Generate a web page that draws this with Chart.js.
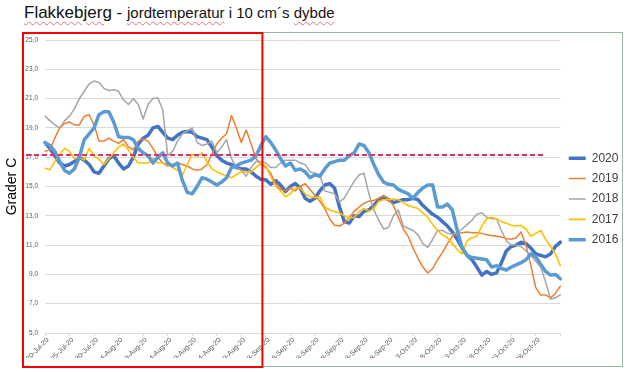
<!DOCTYPE html>
<html>
<head>
<meta charset="utf-8">
<script src="https://cdn.jsdelivr.net/npm/chart.js@4/dist/chart.umd.min.js"></script>
<style>
  html, body { margin: 0; padding: 0; background: #fff; }
  #wrap { position: relative; width: 640px; height: 372px; overflow: hidden; }
  #frame { position: absolute; left: 22px; top: 32px; width: 601px; height: 335px;
           border: 1.5px solid #97b9a3; box-sizing: border-box; }
  #title { position: absolute; left: 24px; top: 3px; line-height: 20px; white-space: nowrap;
           font-family: "Liberation Sans", Arial, sans-serif; color: #111; }
  #title .big { font-size: 17px; }
  #title .small { font-size: 15px; }
  #title .sq { text-decoration: underline wavy #e57373; text-decoration-thickness: 1px; text-underline-offset: 3px; }
  #chart { position: absolute; left: 0; top: 0; }
</style>
</head>
<body>
<div id="wrap">
  <div id="frame"></div>
  <div id="title"><span class="big sq">Flakkebjerg</span><span class="big"> - </span><span class="small"><span class="sq">jordtemperatur</span> i 10 cm´s <span class="sq">dybde</span></span></div>
  <canvas id="chart" width="640" height="372"></canvas>
</div>
<script>
// jordtemperatur i 10 cm dybde, en værdi pr. dag fra 20. juli
var seriesNames = ["2020", "2019", "2018", "2017", "2016"];

var temp2020 = [
  18.0, 17.6, 17.1, 16.6, 16.4, 16.5, 16.7, 17.0, 16.8, 16.5,
  16.0, 15.9, 16.4, 16.9, 17.1, 16.6, 16.2, 16.4, 17.0, 17.9,
  18.3, 18.5, 19.0, 19.1, 18.7, 18.3, 18.2, 18.5, 18.7, 18.75,
  18.7, 18.4, 18.3, 18.2, 17.7, 17.1, 16.8, 16.6, 16.5, 16.3,
  16.2, 16.2, 16.0, 15.7, 15.5, 15.45, 15.15, 15.4, 15.1, 14.65,
  15.0, 15.2, 14.9, 14.2, 14.0, 14.2, 14.7, 15.1, 15.2, 14.9,
  13.6, 12.6, 12.5, 13.0, 12.95, 13.3, 13.4, 13.7, 14.1, 14.3,
  14.1, 13.9, 14.0, 14.1, 14.1, 14.2, 14.1, 13.7, 13.4, 13.1,
  12.9, 12.6, 12.3, 11.9, 11.4, 10.8, 10.3, 10.0, 9.5, 8.95,
  9.2, 9.0, 9.1, 9.8, 10.6, 10.9, 11.0, 11.2, 11.1, 10.8,
  10.4, 10.3, 10.2, 10.4, 10.9, 11.2
];
var temp2019 = [
  17.4, 17.5, 18.3, 19.0, 19.3, 19.4, 19.2, 19.2, 19.8, 19.9,
  19.2, 18.1, 18.1, 18.3, 18.1, 17.95, 18.2, 17.7, 17.5, 18.1,
  18.25, 18.1, 17.6, 17.0, 16.6, 16.4, 16.5, 16.6, 16.5, 16.4,
  16.2, 16.1, 16.2, 16.5, 17.2, 17.9, 18.3, 18.6, 19.85, 19.0,
  18.0, 18.85, 17.9, 16.9, 16.5, 16.3, 15.9, 15.2, 14.8, 14.7,
  14.9, 14.7, 15.0, 15.2, 14.8, 14.4, 14.0, 13.5, 12.8, 12.35,
  12.3, 12.5, 12.9, 13.3, 13.6, 13.85, 14.0, 14.05, 14.2, 14.35,
  14.15, 13.7, 12.9, 12.1, 11.6, 10.8, 10.1, 9.5, 9.1, 9.4,
  10.0, 10.5, 11.1, 11.6, 11.8, 11.85, 11.9, 11.85, 11.85, 11.8,
  11.7, 11.65, 11.6, 11.55, 11.45, 11.4, 11.5, 11.9, 11.0, 9.6,
  8.1, 7.6, 7.6, 7.4, 7.7, 8.2
];
var temp2018 = [
  19.8, 19.5, 19.2, 19.0, 19.5, 19.8, 20.3, 21.0, 21.5, 22.0,
  22.2, 22.1, 21.7, 21.55, 21.6, 21.5, 20.9, 20.6, 21.0, 20.6,
  19.6, 20.6, 21.0, 21.05, 20.2, 17.1, 17.4, 18.1, 18.6, 18.8,
  19.0, 18.0, 17.8, 17.9, 18.1, 17.3, 17.7, 18.2, 16.9, 16.3,
  16.1, 15.7, 16.3, 16.7, 16.7, 16.6, 16.3, 16.3, 16.6, 16.8,
  16.8, 16.8, 16.6, 16.5, 16.0, 15.9, 15.8, 14.7, 14.6, 14.5,
  13.95, 14.2, 14.8, 15.35, 15.8, 15.9, 14.5, 13.4, 12.7, 12.1,
  12.2, 13.0, 13.4, 12.3, 12.15, 12.0, 11.7, 11.1, 10.85, 11.4,
  12.0, 12.0, 11.8, 11.75, 11.85, 12.1, 12.4, 12.7, 13.1, 13.2,
  12.9, 12.8, 12.8, 12.0, 11.3, 11.0, 11.0, 10.9, 10.6, 10.3,
  9.9, 9.5, 8.5, 7.3, 7.4, 7.6
];
var temp2017 = [
  16.25, 16.15, 16.7, 17.2, 17.6, 17.4, 16.9, 17.0, 16.8, 17.6,
  17.1, 16.85, 16.5, 16.9, 17.3, 17.7, 17.9, 17.5, 17.0, 16.6,
  16.6, 16.6, 16.9, 16.6, 16.6, 16.5, 16.3, 16.1, 15.8, 16.5,
  17.2, 17.05, 17.3, 16.7, 16.2, 16.0, 15.85, 15.7, 15.6, 15.8,
  16.0, 16.0, 16.0, 16.3, 16.6, 16.4, 15.7, 15.0, 14.7, 14.3,
  14.5, 14.9, 14.9, 14.5, 14.3, 14.25, 14.3, 13.6, 13.4, 13.3,
  13.2, 13.0, 12.85, 12.9, 13.3, 13.5, 13.3, 13.5, 14.0, 14.1,
  14.1, 14.15, 14.1, 13.9, 13.7, 13.6, 13.5, 13.2, 12.9, 12.4,
  12.0, 11.7, 11.5, 11.1, 10.7, 10.4, 11.3, 11.5, 11.6, 12.3,
  12.8, 12.9, 12.8, 12.6, 12.5, 12.35, 12.3, 12.35, 12.1, 11.6,
  11.8, 12.0, 11.4, 10.9, 10.4, 9.6
];
var temp2016 = [
  18.0, 17.8, 17.4, 16.7, 16.1, 15.9, 16.2, 17.0, 18.2, 18.6,
  19.0, 19.9, 20.1, 20.1, 19.4, 18.4, 18.35, 18.35, 18.2, 17.6,
  17.3, 17.1, 16.6, 17.0, 17.3, 16.6, 16.4, 16.6, 15.4, 14.6,
  14.5, 15.0, 15.6, 15.5, 15.3, 15.1, 15.3, 15.6, 16.3, 16.4,
  16.6, 16.7, 16.8, 17.1, 17.8, 18.4, 18.0, 17.5, 16.9, 16.4,
  16.6, 16.1, 16.2, 16.0, 15.6, 15.8, 15.7, 16.2, 16.6, 16.7,
  16.8, 16.8, 17.1, 17.3, 17.9, 17.8, 17.3, 16.5, 15.8, 15.3,
  15.15, 15.1, 14.8, 14.65, 14.5, 14.2, 14.6, 14.9, 15.1, 15.1,
  13.6, 13.6, 13.8, 13.4, 12.0, 10.8, 10.3, 10.15, 10.1, 10.05,
  10.0, 9.5, 9.6, 9.4, 9.3, 9.5, 9.65, 9.8, 10.0, 10.4,
  10.2, 9.7, 9.2, 8.95, 9.0, 8.7
];

// tekst under x-aksen, hver 5. dag
var tickLabels = ["20-Jul-20", "25-Jul-20", "30-Jul-20", "4-Aug-20", "9-Aug-20", "14-Aug-20",
  "19-Aug-20", "24-Aug-20", "29-Aug-20", "3-Sep-20", "8-Sep-20", "13-Sep-20", "18-Sep-20",
  "23-Sep-20", "28-Sep-20", "3-Oct-20", "8-Oct-20", "13-Oct-20", "18-Oct-20", "23-Oct-20", "28-Oct-20"];

var referenceLevel = 17.15; // stiplet linje
var referenceEndDay = 102;
var highlightEndDay = 44.3; // rød ramme om perioden 20/7 - 2/9

// kategorier: en pr. dag
var monthNames = ["Jan", "Feb", "Mar", "Apr", "May", "Jun", "Jul", "Aug", "Sep", "Oct", "Nov", "Dec"];
var categories = [];
for (var i = 0; i < temp2020.length; i++) {
  var d = new Date(2020, 6, 20 + i);
  categories.push(d.getDate() + "-" + monthNames[d.getMonth()] + "-20");
}

var colors = ["#4472C4", "#ED7D31", "#A5A5A5", "#FFC000", "#5B9BD5"];
var widths = [3.5, 1.5, 1.5, 1.6, 3.5];
var allSeries = [temp2020, temp2019, temp2018, temp2017, temp2016];

var datasets = allSeries.map(function(values, idx) {
  return {
    label: seriesNames[idx],
    data: values,
    borderColor: colors[idx],
    backgroundColor: colors[idx],
    borderWidth: widths[idx],
    pointRadius: 0,
    tension: 0,
    borderJoinStyle: "round",
    borderCapStyle: "round",
    order: allSeries.length - 1 - idx // 2016 tegnes øverst
  };
});

var FONT = "'Liberation Sans', Arial, sans-serif";
var frameBox = { left: 23, top: 33, bottom: 367 };

var overlayPlugin = {
  id: "overlay",
  afterDatasetsDraw: function(chart) {
    var ctx = chart.ctx;
    var x = chart.scales.x;
    var y = chart.scales.y;
    var yRef = y.getPixelForValue(referenceLevel);
    ctx.save();
    ctx.strokeStyle = "#D9346E";
    ctx.lineWidth = 2;
    ctx.setLineDash([5, 3]);
    ctx.beginPath();
    ctx.moveTo(frameBox.left + 3, yRef);
    ctx.lineTo(x.getPixelForValue(referenceEndDay), yRef);
    ctx.stroke();
    ctx.setLineDash([]);
    ctx.strokeStyle = "#FF0000";
    ctx.lineWidth = 2;
    var right = x.getPixelForValue(highlightEndDay);
    ctx.strokeRect(frameBox.left, frameBox.top, right - frameBox.left, frameBox.bottom - frameBox.top);
    ctx.restore();
  }
};

var ctx = document.getElementById("chart").getContext("2d");
var chart = new Chart(ctx, {
  type: "line",
  data: { labels: categories, datasets: datasets },
  options: {
    responsive: false,
    animation: false,
    layout: { padding: { left: 0, right: 11.6, top: 40, bottom: 14 } },
    plugins: {
      legend: {
        position: "right",
        reverse: true,
        labels: {
          usePointStyle: true,
          pointStyle: "line",
          pointStyleWidth: 17,
          padding: 8.4,
          color: "#404040",
          font: { family: FONT, size: 12 }
        }
      },
      tooltip: { enabled: false }
    },
    scales: {
      x: {
        type: "category",
        offset: false,
        afterFit: function(scale) { scale.height = 25; },
        grid: {
          drawOnChartArea: false,
          drawTicks: true,
          tickLength: 3,
          color: function(c) { return c.index % 5 === 0 ? "#d9d9d9" : "rgba(0,0,0,0)"; }
        },
        border: { display: true, color: "#d9d9d9" },
        ticks: {
          autoSkip: false,
          maxRotation: 45,
          minRotation: 45,
          padding: 0,
          labelOffset: 3,
          color: "#595959",
          font: { family: FONT, size: 7 },
          callback: function(val, index) {
            return index % 5 === 0 && tickLabels[index / 5] ? tickLabels[index / 5] : "";
          }
        }
      },
      y: {
        min: 5,
        max: 25,
        afterFit: function(scale) { scale.width = 45; },
        border: { display: false },
        grid: { color: "#d9d9d9", lineWidth: 1, drawTicks: false },
        ticks: {
          stepSize: 2,
          padding: 7,
          color: "#595959",
          font: { family: FONT, size: 6.5 },
          callback: function(v) { return v.toFixed(1).replace(".", ","); }
        },
        title: {
          display: true,
          text: "Grader C",
          color: "#000",
          padding: { top: 3.6, bottom: 0 },
          font: { family: FONT, size: 14 }
        }
      }
    }
  },
  plugins: [overlayPlugin]
});
</script>
</body>
</html>
